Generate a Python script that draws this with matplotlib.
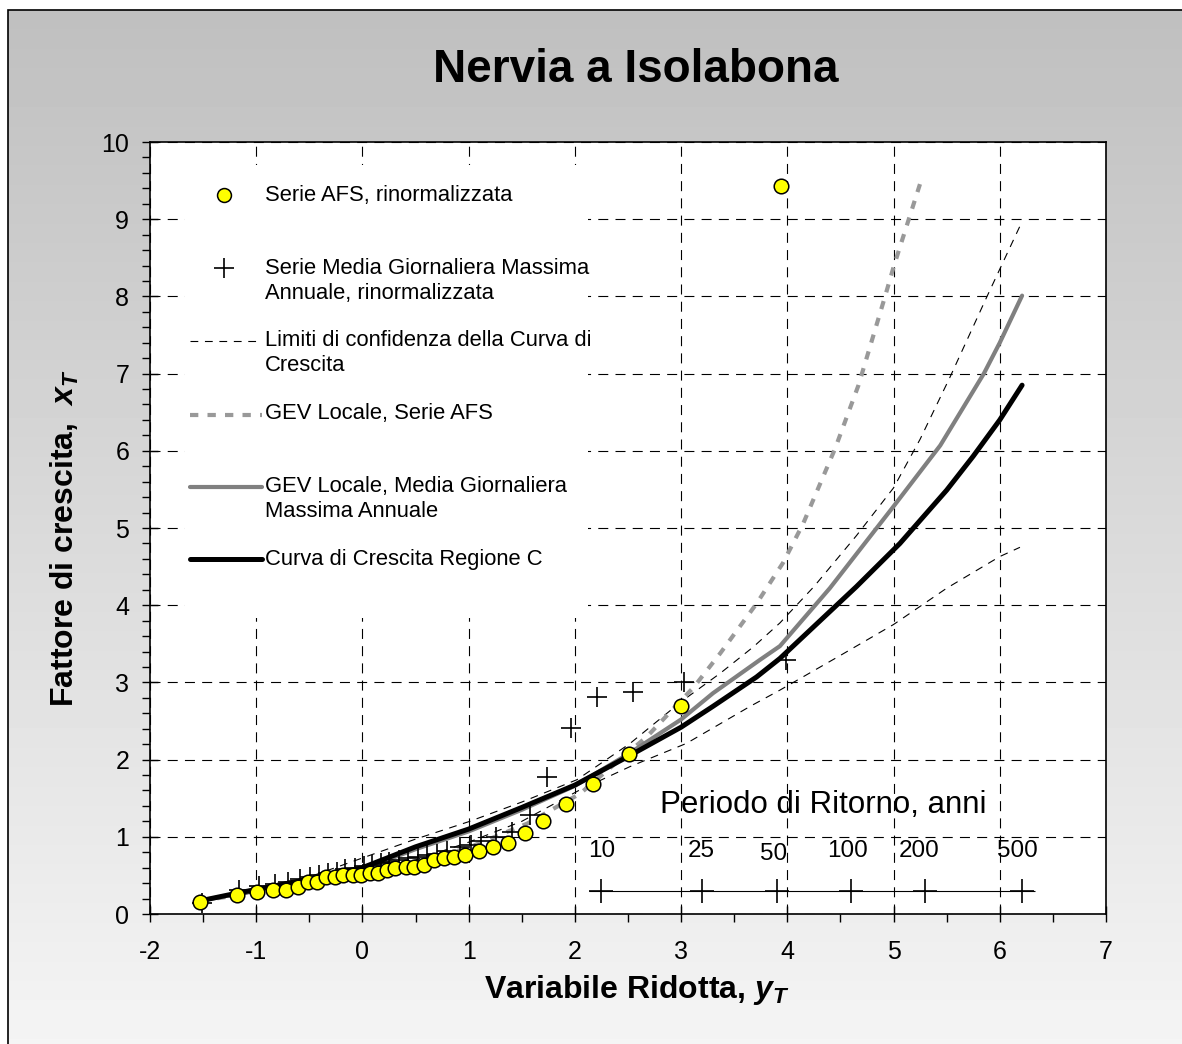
import matplotlib
matplotlib.use('Agg')
import matplotlib.pyplot as plt
import numpy as np
from matplotlib.patches import Rectangle
from matplotlib.lines import Line2D
from matplotlib.ticker import MultipleLocator

plt.rcParams['font.family'] = ['Liberation Sans', 'DejaVu Sans']
plt.rcParams['axes.unicode_minus'] = False
plt.rcParams['mathtext.fontset'] = 'custom'
plt.rcParams['mathtext.it'] = 'Liberation Sans:italic:bold'
plt.rcParams['mathtext.rm'] = 'Liberation Sans:bold'

# Serie AFS, rinormalizzata (variabile ridotta, fattore di crescita)
afs_y = [-1.53, -1.18, -0.99, -0.84, -0.72, -0.61, -0.51, -0.43, -0.34, -0.26,
         -0.18, -0.09, -0.01, 0.07, 0.15, 0.23, 0.31, 0.41, 0.49, 0.58,
         0.67, 0.77, 0.86, 0.97, 1.10, 1.23, 1.37, 1.53, 1.70, 1.92,
         2.17, 2.51, 3.00, 3.94]
afs_x = [0.16, 0.25, 0.29, 0.31, 0.31, 0.35, 0.42, 0.42, 0.48, 0.48,
         0.505, 0.505, 0.505, 0.53, 0.535, 0.57, 0.59, 0.605, 0.61, 0.635,
         0.70, 0.73, 0.74, 0.76, 0.82, 0.87, 0.92, 1.05, 1.20, 1.42,
         1.69, 2.07, 2.70, 9.43]

# Serie Media Giornaliera Massima Annuale, rinormalizzata
mg_y = [-1.51, -1.16, -0.97, -0.82, -0.70, -0.59, -0.49, -0.41, -0.32, -0.24,
        -0.16, -0.07, 0.01, 0.09, 0.17, 0.25, 0.34, 0.43, 0.52, 0.61,
        0.70, 0.80, 0.92, 1.02, 1.12, 1.26, 1.41, 1.58, 1.74, 1.96,
        2.21, 2.55, 3.03, 3.99]
mg_x = [0.14, 0.31, 0.36, 0.39, 0.42, 0.45, 0.48, 0.50, 0.53, 0.55,
        0.58, 0.60, 0.62, 0.64, 0.66, 0.68, 0.70, 0.72, 0.74, 0.76,
        0.78, 0.82, 0.87, 0.90, 0.94, 1.00, 1.06, 1.28, 1.78, 2.41,
        2.81, 2.87, 3.00, 3.29]

# Limiti di confidenza
conf_up_y = [-1.53, -1.0, -0.5, 0.07, 0.5, 1.01, 1.5, 2.02, 2.52, 3.0, 3.37,
             3.68, 3.93, 4.25, 4.65, 5.0, 5.25, 5.53, 5.88, 6.21]
conf_up_x = [0.18, 0.34, 0.48, 0.76, 0.97, 1.20, 1.45, 1.74, 2.21, 2.75, 3.12,
             3.46, 3.77, 4.24, 4.90, 5.52, 6.15, 6.95, 8.00, 8.97]
conf_lo_y = [-1.53, -1.0, -0.5, 0.0, 0.5, 1.0, 1.5, 2.05, 2.52, 3.05, 3.65,
             3.93, 4.5, 5.0, 5.5, 6.0, 6.19]
conf_lo_x = [0.16, 0.28, 0.40, 0.52, 0.70, 0.93, 1.20, 1.61, 1.91, 2.21, 2.69,
             2.90, 3.35, 3.75, 4.22, 4.63, 4.75]

# GEV Locale, Serie AFS
gev_afs_y = [-1.53, -1.0, -0.5, 0.0, 0.5, 0.98, 1.55, 2.05, 2.27, 2.68, 3.12,
             3.37, 3.71, 3.96, 4.15, 4.45, 4.67, 4.92, 5.0, 5.25]
gev_afs_x = [0.17, 0.28, 0.41, 0.54, 0.67, 0.85, 1.17, 1.56, 1.82, 2.30, 2.94,
             3.38, 4.02, 4.55, 5.06, 6.03, 6.85, 8.00, 8.38, 9.46]

# GEV Locale, Media Giornaliera Massima Annuale
gev_mg_y = [-1.53, -1.0, -0.5, 0.0, 0.5, 1.0, 1.5, 2.0, 2.5, 3.0, 3.3, 3.74,
            3.93, 4.4, 5.0, 5.44, 5.85, 6.0, 6.21]
gev_mg_x = [0.17, 0.31, 0.44, 0.58, 0.84, 1.07, 1.35, 1.66, 2.07, 2.52, 2.86,
            3.29, 3.47, 4.22, 5.28, 6.07, 7.00, 7.40, 8.01]

# Curva di Crescita Regione C
reg_y = [-1.53, -1.18, -0.99, -0.5, 0.0, 0.5, 1.0, 1.5, 2.0, 2.5, 3.0, 3.3,
         3.71, 3.93, 4.65, 5.06, 5.5, 5.75, 6.0, 6.21]
reg_x = [0.17, 0.27, 0.32, 0.45, 0.60, 0.87, 1.10, 1.38, 1.67, 2.04, 2.42, 2.69,
         3.07, 3.31, 4.24, 4.80, 5.49, 5.93, 6.40, 6.85]

# Periodo di ritorno
rp_labels = ['10', '25', '50', '100', '200', '500']
rp_y = [2.25, 3.20, 3.90, 4.60, 5.30, 6.21]

legend_labels = ['Serie AFS, rinormalizzata',
                 'Serie Media Giornaliera Massima\nAnnuale, rinormalizzata',
                 'Limiti di confidenza della Curva di\nCrescita',
                 'GEV Locale, Serie AFS',
                 'GEV Locale, Media Giornaliera\nMassima Annuale',
                 'Curva di Crescita Regione C']

W, H = 1182, 1044
fig = plt.figure(figsize=(W / 100, H / 100), dpi=100)

# gradient background with border
bg = fig.add_axes([0, 0, 1, 1], zorder=-10)
grad = np.linspace(0.75, 1.0, 256).reshape(-1, 1)
bg.imshow(grad, cmap='gray', vmin=0, vmax=1, aspect='auto',
          extent=[8 / W, 1.2, -0.2, 1 - 10 / H])
bg.set_xlim(0, 1)
bg.set_ylim(0, 1)
bg.axis('off')
fig.patches.append(Rectangle((8 / W, -0.1), 1.2, 1.1 - 10 / H, transform=fig.transFigure,
                             fill=False, edgecolor='black', lw=1.2))

ax = fig.add_axes([150 / W, 1 - 914 / H, 956 / W, 772 / H])
ax.set_facecolor('white')
ax.set_xlim(-2, 7)
ax.set_ylim(0, 10)
ax.xaxis.set_major_locator(MultipleLocator(1))
ax.xaxis.set_minor_locator(MultipleLocator(0.5))
ax.yaxis.set_major_locator(MultipleLocator(1))
ax.yaxis.set_minor_locator(MultipleLocator(0.2))
ax.tick_params(which='major', direction='inout', length=12, width=1, labelsize=18)
ax.tick_params(which='minor', direction='out', length=6, width=1)
ax.tick_params(axis='x', which='major', pad=13)
ax.tick_params(axis='y', which='major', pad=9)
ax.set_axisbelow(True)
ax.grid(True, which='major', color='black', lw=0.8, dashes=(9, 6.5))
for s in ax.spines.values():
    s.set_linewidth(1.2)

# legend box (white, no frame)
ax.add_patch(Rectangle((0.037, 0.383), 0.421, 0.587, transform=ax.transAxes,
                       facecolor='white', edgecolor='none', zorder=1))

ax.plot(conf_up_y, conf_up_x, color='black', lw=0.8, dashes=(7, 6), zorder=3)
ax.plot(conf_lo_y, conf_lo_x, color='black', lw=0.8, dashes=(7, 6), zorder=3)
ax.plot(gev_afs_y, gev_afs_x, color='#999999', lw=3, dashes=(2, 2.2), zorder=3)
ax.plot(gev_mg_y, gev_mg_x, color='#808080', lw=3, solid_capstyle='round',
        solid_joinstyle='round', zorder=4)
ax.plot(reg_y, reg_x, color='black', lw=3.6, solid_capstyle='round',
        solid_joinstyle='round', zorder=5)
ax.plot(mg_y, mg_x, ls='none', marker='+', ms=15, mew=1.2, color='black', zorder=6)
ax.plot(afs_y, afs_x, ls='none', marker='o', ms=10.5, mfc='#ffff00', mec='black',
        mew=1.1, zorder=7)

# return period scale
ax.hlines(0.3, rp_y[0] - 0.12, rp_y[-1] + 0.12, color='black', lw=0.8, zorder=3)
ax.plot(rp_y, [0.3] * len(rp_y), ls='none', marker='+', ms=17, mew=1.2,
        color='black', zorder=3)
rp_label_x = [2.25, 3.19, 3.87, 4.57, 5.24, 6.17]
rp_label_yv = [0.81, 0.81, 0.78, 0.81, 0.81, 0.81]
for lab, lx, ly in zip(rp_labels, rp_label_x, rp_label_yv):
    ax.text(lx, ly, lab, ha='center', va='center', fontsize=17.5, zorder=4)
ax.text(4.34, 1.41, 'Periodo di Ritorno, anni', ha='center', va='center',
        fontsize=22.5, zorder=4)

# manual legend
def px(xp, yp):
    return ((xp - 150) / 956, (914 - yp) / 772)

handle_rows = [195, 268, 341, 415, 487, 559]
text_rows = [195, 281, 353, 414, 499, 559]
hx0, hx1 = px(190, 0)[0], px(262, 0)[0]
hm = px(224, 0)[0]
styles = [
    dict(ls='none', marker='o', ms=10, mfc='#ffff00', mec='black', mew=1.1),
    dict(ls='none', marker='+', ms=15, mew=1.2, color='black'),
    dict(color='black', lw=0.8, dashes=(7, 6)),
    dict(color='#999999', lw=3, dashes=(2, 2.2)),
    dict(color='#808080', lw=3, solid_capstyle='round'),
    dict(color='black', lw=3.6, solid_capstyle='round'),
]
for i, (lab, st) in enumerate(zip(legend_labels, styles)):
    yh = px(0, handle_rows[i])[1]
    if i < 2:
        ax.add_line(Line2D([hm], [yh], transform=ax.transAxes, zorder=8, **st))
    else:
        ax.add_line(Line2D([hx0, hx1], [yh, yh], transform=ax.transAxes, zorder=8, **st))
    tx, ty = px(265, text_rows[i])
    ax.text(tx, ty, lab, transform=ax.transAxes, ha='left', va='center',
            fontsize=15.8, linespacing=1.3, zorder=8)

fig.text(636 / W, 1 - 70 / H, 'Nervia a Isolabona', ha='center', va='center',
         fontsize=33, fontweight='bold')
fig.text(637 / W, 1 - 990 / H, 'Variabile Ridotta, $y_T$', ha='center', va='center',
         fontsize=23, fontweight='bold')
fig.text(65 / W, 1 - 538 / H, 'Fattore di crescita,  $x_T$', ha='center', va='center',
         rotation=90, fontsize=23, fontweight='bold')

fig.savefig('out.png', dpi=100)
